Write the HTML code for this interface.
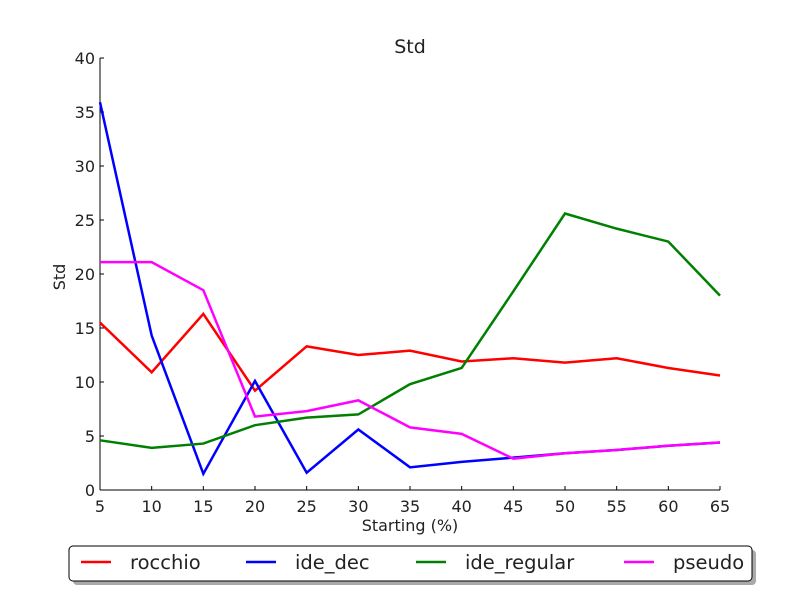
<!DOCTYPE html>
<html><head><meta charset="utf-8"><style>
body{margin:0;background:#fff;}
svg text{font-family:"DejaVu Sans","Liberation Sans",sans-serif;fill:#222;}
</style></head><body>
<svg id="chart" width="800" height="600" xmlns="http://www.w3.org/2000/svg">
<rect width="800" height="600" fill="#fff"/>
<text x="410" y="53" font-size="19" text-anchor="middle">Std</text>
<g id="axes"></g>
<g id="lines"></g>
<text x="410" y="531" font-size="16" text-anchor="middle">Starting (%)</text>
<text x="65" y="277" font-size="16" text-anchor="middle" transform="rotate(-90 65 277)">Std</text>
<g>
<rect x="73" y="550" width="683" height="35" rx="4" fill="#aaa"/>
<rect x="69" y="546" width="683" height="35" rx="4" fill="#fff" stroke="#000" stroke-width="1"/>
<g id="legend-items"></g>
</g>
</svg>
<script>
const xValues=[5,10,15,20,25,30,35,40,45,50,55,60,65];
const rocchio=[15.5,10.9,16.3,9.2,13.3,12.5,12.9,11.9,12.2,11.8,12.2,11.3,10.6];
const ideDec=[35.9,14.3,1.5,10.1,1.6,5.6,2.1,2.6,3.0,3.4,3.7,4.1,4.4];
const ideRegular=[4.6,3.9,4.3,6.0,6.7,7.0,9.8,11.3,18.4,25.6,24.2,23.0,18.0];
const pseudo=[21.1,21.1,18.5,6.8,7.3,8.3,5.8,5.2,2.9,3.4,3.7,4.1,4.4];
const yTicks=[0,5,10,15,20,25,30,35,40];
const seriesNames=["rocchio","ide_dec","ide_regular","pseudo"];
const seriesColors=["#ff0000","#0000ff","#008000","#ff00ff"];
const seriesData=[rocchio,ideDec,ideRegular,pseudo];
const NS="http://www.w3.org/2000/svg";
const X=v=>100+(v-5)*(620/60);
const Y=v=>490-v*(432/40);
function mk(t,a,p){const e=document.createElementNS(NS,t);for(const k in a)e.setAttribute(k,a[k]);p.appendChild(e);return e;}
const axes=document.getElementById('axes');
const la=mk('line',{x1:100,y1:58,x2:100,y2:490,stroke:'#000'},axes);


const ba=mk('line',{x1:100,y1:490,x2:720,y2:490,stroke:'#000'},axes);


xValues.forEach(v=>{
 mk('line',{x1:X(v),y1:490,x2:X(v),y2:486,stroke:'#000'},axes);
 const t=mk('text',{x:X(v),y:512,'font-size':16,'text-anchor':'middle'},axes);
 t.textContent=v;
 
 
});
yTicks.forEach(v=>{
 mk('line',{x1:100,y1:Y(v),x2:104,y2:Y(v),stroke:'#000'},axes);
 const t=mk('text',{x:95,y:Y(v)+6,'font-size':16,'text-anchor':'end'},axes);
 t.textContent=v;
 
 
});
const lines=document.getElementById('lines');
seriesData.forEach((d,i)=>{
 const p=mk('polyline',{points:d.map((v,j)=>X(xValues[j])+','+Y(v)).join(' '),fill:'none',stroke:seriesColors[i],'stroke-width':2.5},lines);
 
 
});
const li=document.getElementById('legend-items');
const lx=[81,246,416,624];
seriesNames.forEach((n,i)=>{
 mk('line',{x1:lx[i],y1:562,x2:lx[i]+30,y2:562,stroke:seriesColors[i],'stroke-width':2.5},li);
 const t=mk('text',{x:lx[i]+49,y:569,'font-size':19.5},li);
 t.textContent=n;
 
 
});
</script>
</body></html>
